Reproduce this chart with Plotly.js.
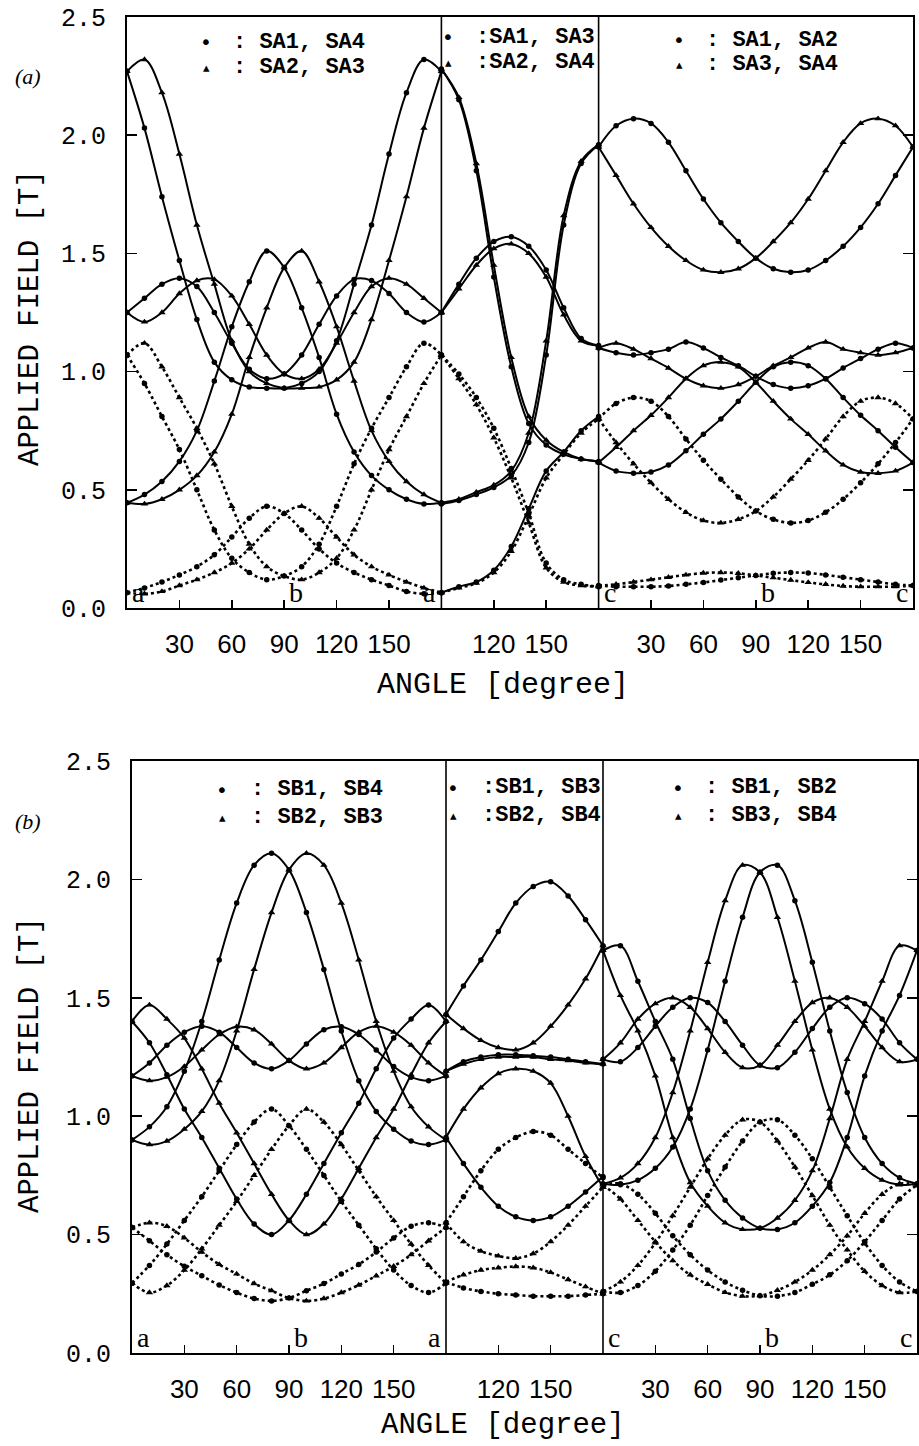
<!DOCTYPE html>
<html><head><meta charset="utf-8">
<script src="https://cdn.plot.ly/plotly-3.0.1.min.js"></script>
<style>html,body{margin:0;padding:0;background:#fff}#chart{width:919px;height:1446px}</style>
</head><body><div id="chart"></div>
<script>
// ---------- angles (degrees) ----------
const ANG = [0,10,20,30,40,50,60,70,80,90,100,110,120,130,140,150,160,170,180];
const ANG_AC = [90,100,110,120,130,140,150,160,170,180];
const SEG_OFFSET = [0, 90, 270];            // where each angular segment starts on the shared axis
const TICK_ANGLES = [[30,60,90,120,150],[120,150],[30,60,90,120,150]];
const YTICKS = [0,0.5,1.0,1.5,2.0,2.5];

// ---------- panel (a) : a-b-a plane (dots: SA1,SA4 ; triangles: SA2,SA3) ----------
const pa_s1_C_H    = [2.27,2.03,1.74,1.47,1.22,1.04,0.965,0.935,0.93,0.93,0.95,1.00,1.13,1.37,1.62,1.92,2.18,2.32,2.27];
const pa_s1_T_H    = [2.27,2.32,2.18,1.92,1.62,1.37,1.13,1.00,0.95,0.93,0.93,0.935,0.965,1.04,1.22,1.47,1.74,2.03,2.27];
const pa_s1_C_hump = [1.25,1.31,1.37,1.395,1.36,1.25,1.12,1.01,0.97,0.99,1.07,1.20,1.32,1.39,1.385,1.33,1.25,1.21,1.25];
const pa_s1_T_hump = [1.25,1.21,1.25,1.33,1.385,1.39,1.32,1.20,1.07,0.99,0.97,1.01,1.12,1.25,1.36,1.395,1.37,1.31,1.25];
const pa_s1_C_P    = [0.445,0.48,0.535,0.62,0.75,0.96,1.19,1.38,1.51,1.44,1.27,1.06,0.82,0.66,0.56,0.50,0.46,0.44,0.445];
const pa_s1_T_P    = [0.445,0.44,0.46,0.50,0.56,0.66,0.82,1.06,1.27,1.44,1.51,1.38,1.19,0.96,0.75,0.62,0.535,0.48,0.445];
const pa_s1_C_Du   = [1.07,0.95,0.81,0.67,0.50,0.33,0.21,0.15,0.12,0.135,0.175,0.27,0.43,0.61,0.76,0.89,1.02,1.12,1.07];
const pa_s1_T_Du   = [1.07,1.12,1.02,0.89,0.76,0.61,0.43,0.27,0.175,0.135,0.12,0.15,0.21,0.33,0.50,0.67,0.81,0.95,1.07];
const pa_s1_C_Dl   = [0.065,0.085,0.11,0.14,0.175,0.225,0.30,0.38,0.43,0.40,0.33,0.25,0.19,0.15,0.12,0.095,0.07,0.06,0.065];
const pa_s1_T_Dl   = [0.065,0.06,0.07,0.095,0.12,0.15,0.19,0.25,0.33,0.40,0.43,0.38,0.30,0.225,0.175,0.14,0.11,0.085,0.065];

// a-c plane (dots: SA1,SA3 ; triangles: SA2,SA4)
const pa_s2_C_H    = [2.28,2.15,1.85,1.40,1.02,0.78,0.69,0.65,0.63,0.62];
const pa_s2_T_H    = [2.28,2.16,1.88,1.45,1.06,0.81,0.71,0.66,0.63,0.62];
const pa_s2_C_hump = [1.25,1.37,1.48,1.55,1.57,1.53,1.43,1.27,1.14,1.11];
const pa_s2_T_hump = [1.25,1.35,1.45,1.52,1.54,1.50,1.40,1.24,1.13,1.11];
const pa_s2_C_P    = [0.44,0.455,0.48,0.51,0.56,0.70,1.07,1.62,1.88,1.96];
const pa_s2_T_P    = [0.445,0.46,0.49,0.52,0.58,0.74,1.13,1.66,1.89,1.96];
const pa_s2_C_Du   = [1.07,0.99,0.89,0.76,0.59,0.40,0.19,0.12,0.10,0.09];
const pa_s2_T_Du   = [1.07,0.97,0.86,0.72,0.55,0.36,0.17,0.11,0.095,0.09];
const pa_s2_C_Dl   = [0.065,0.09,0.11,0.16,0.26,0.42,0.58,0.66,0.75,0.81];
const pa_s2_T_Dl   = [0.065,0.085,0.105,0.15,0.24,0.39,0.55,0.65,0.74,0.80];

// c-b-c plane (dots: SA1,SA2 ; triangles: SA3,SA4)
const pa_s3_C_A = [1.95,2.04,2.07,2.05,1.97,1.85,1.73,1.63,1.55,1.48,1.435,1.42,1.43,1.47,1.53,1.61,1.71,1.83,1.95];
const pa_s3_T_A = [1.95,1.83,1.71,1.61,1.53,1.47,1.43,1.42,1.435,1.48,1.55,1.63,1.73,1.85,1.97,2.05,2.07,2.04,1.95];
const pa_s3_C_Q = [1.10,1.08,1.07,1.08,1.095,1.125,1.10,1.06,1.025,0.98,0.945,0.93,0.94,0.97,1.015,1.055,1.095,1.12,1.10];
const pa_s3_T_Q = [1.10,1.12,1.095,1.055,1.015,0.97,0.94,0.93,0.945,0.98,1.025,1.06,1.10,1.125,1.095,1.08,1.07,1.08,1.10];
const pa_s3_C_U = [0.615,0.58,0.57,0.575,0.605,0.665,0.735,0.80,0.875,0.955,1.02,1.04,1.025,0.97,0.89,0.815,0.75,0.68,0.615];
const pa_s3_T_U = [0.615,0.68,0.75,0.815,0.89,0.97,1.025,1.04,1.02,0.955,0.875,0.80,0.735,0.665,0.605,0.575,0.57,0.58,0.615];
const pa_s3_C_L = [0.80,0.865,0.89,0.875,0.81,0.715,0.625,0.545,0.47,0.41,0.375,0.36,0.37,0.405,0.46,0.53,0.61,0.70,0.80];
const pa_s3_T_L = [0.80,0.70,0.61,0.53,0.46,0.405,0.37,0.36,0.375,0.41,0.47,0.545,0.625,0.715,0.81,0.875,0.89,0.865,0.80];
const pa_s3_C_D = [0.095,0.09,0.09,0.09,0.093,0.10,0.108,0.118,0.128,0.138,0.147,0.15,0.148,0.14,0.13,0.12,0.11,0.10,0.095];
const pa_s3_T_D = [0.095,0.10,0.11,0.12,0.13,0.14,0.148,0.15,0.147,0.138,0.128,0.118,0.108,0.10,0.093,0.09,0.09,0.09,0.095];

// ---------- panel (b) ----------
const pb_s1_C_H  = [0.90,0.955,1.04,1.19,1.40,1.66,1.90,2.06,2.11,2.04,1.86,1.62,1.36,1.15,1.02,0.945,0.895,0.88,0.90];
const pb_s1_T_H  = [0.90,0.88,0.895,0.945,1.02,1.15,1.36,1.62,1.86,2.04,2.11,2.06,1.90,1.66,1.40,1.19,1.04,0.955,0.90];
const pb_s1_C_W  = [1.17,1.225,1.30,1.355,1.38,1.355,1.29,1.225,1.20,1.235,1.305,1.365,1.378,1.345,1.28,1.21,1.165,1.15,1.17];
const pb_s1_T_W  = [1.17,1.15,1.165,1.21,1.28,1.345,1.378,1.365,1.305,1.235,1.20,1.225,1.29,1.355,1.38,1.355,1.30,1.225,1.17];
const pb_s1_C_Dp = [0.295,0.37,0.46,0.56,0.66,0.77,0.88,0.975,1.03,0.96,0.86,0.75,0.64,0.54,0.44,0.35,0.285,0.255,0.295];
const pb_s1_T_Dp = [0.295,0.255,0.285,0.35,0.44,0.54,0.64,0.75,0.86,0.96,1.03,0.975,0.88,0.77,0.66,0.56,0.46,0.37,0.295];
const pb_s1_C_U  = [1.40,1.31,1.175,1.03,0.91,0.78,0.65,0.545,0.50,0.56,0.67,0.80,0.93,1.055,1.20,1.33,1.41,1.47,1.40];
const pb_s1_T_U  = [1.40,1.47,1.41,1.33,1.20,1.055,0.93,0.80,0.67,0.56,0.50,0.545,0.65,0.78,0.91,1.03,1.175,1.31,1.40];
const pb_s1_C_B  = [0.53,0.474,0.415,0.366,0.326,0.287,0.255,0.23,0.22,0.232,0.263,0.293,0.334,0.374,0.426,0.486,0.535,0.55,0.53];
const pb_s1_T_B  = [0.53,0.55,0.535,0.486,0.426,0.374,0.334,0.293,0.263,0.232,0.22,0.23,0.255,0.287,0.326,0.366,0.415,0.474,0.53];

const pb_s2_C_hump = [1.43,1.55,1.66,1.78,1.90,1.97,1.99,1.93,1.83,1.72];
const pb_s2_T_U    = [1.43,1.37,1.32,1.29,1.28,1.31,1.38,1.47,1.58,1.72];
const pb_s2_C_flat = [1.19,1.23,1.25,1.26,1.26,1.255,1.25,1.24,1.23,1.22];
const pb_s2_T_flat = [1.19,1.22,1.24,1.25,1.25,1.25,1.24,1.235,1.225,1.22];
const pb_s2_C_low  = [0.91,0.80,0.70,0.62,0.575,0.56,0.575,0.62,0.68,0.745];
const pb_s2_T_mid  = [0.91,1.03,1.12,1.18,1.20,1.19,1.14,1.00,0.83,0.70];
const pb_s2_C_dot  = [0.55,0.66,0.77,0.86,0.91,0.935,0.92,0.86,0.80,0.74];
const pb_s2_T_dl   = [0.55,0.47,0.43,0.41,0.40,0.42,0.47,0.54,0.62,0.70];
const pb_s2_C_bot  = [0.30,0.275,0.26,0.25,0.245,0.24,0.24,0.24,0.245,0.25];
const pb_s2_T_bot  = [0.30,0.33,0.35,0.36,0.365,0.36,0.34,0.31,0.28,0.25];

const pb_s3_C_H  = [0.715,0.71,0.73,0.78,0.87,1.03,1.28,1.57,1.84,2.03,2.06,1.91,1.65,1.36,1.10,0.91,0.80,0.74,0.715];
const pb_s3_T_H  = [0.715,0.74,0.80,0.91,1.10,1.36,1.65,1.91,2.06,2.03,1.84,1.57,1.28,1.03,0.87,0.78,0.73,0.71,0.715];
const pb_s3_C_W  = [1.24,1.23,1.29,1.38,1.46,1.50,1.48,1.40,1.30,1.215,1.205,1.27,1.37,1.46,1.50,1.475,1.41,1.31,1.24];
const pb_s3_T_W  = [1.24,1.31,1.41,1.475,1.50,1.46,1.37,1.27,1.205,1.215,1.30,1.40,1.48,1.50,1.46,1.38,1.29,1.23,1.24];
const pb_s3_C_U  = [1.70,1.72,1.57,1.40,1.24,0.99,0.77,0.645,0.57,0.527,0.522,0.55,0.62,0.72,0.91,1.17,1.36,1.51,1.70];
const pb_s3_T_U  = [1.70,1.51,1.36,1.17,0.91,0.72,0.62,0.55,0.522,0.527,0.57,0.645,0.77,0.99,1.24,1.40,1.57,1.72,1.70];
const pb_s3_C_Dp = [0.26,0.255,0.285,0.345,0.435,0.54,0.665,0.785,0.895,0.975,0.985,0.92,0.82,0.70,0.58,0.465,0.37,0.30,0.26];
const pb_s3_T_Dp = [0.26,0.30,0.37,0.465,0.58,0.70,0.82,0.92,0.985,0.975,0.895,0.785,0.665,0.54,0.435,0.345,0.285,0.255,0.26];
const pb_s3_C_B  = [0.71,0.715,0.67,0.59,0.495,0.415,0.35,0.30,0.265,0.242,0.24,0.256,0.29,0.33,0.39,0.47,0.56,0.65,0.71];
const pb_s3_T_B  = [0.71,0.65,0.56,0.47,0.39,0.33,0.29,0.256,0.24,0.242,0.265,0.30,0.35,0.415,0.495,0.59,0.67,0.715,0.71];

// ---------- legend / label text ----------
const LEGEND_A = [[': SA1, SA4',': SA2, SA3'],[':SA1, SA3',':SA2, SA4'],[': SA1, SA2',': SA3, SA4']];
const LEGEND_B = [[': SB1, SB4',': SB2, SB3'],[':SB1, SB3',':SB2, SB4'],[': SB1, SB2',': SB3, SB4']];
const DIR_LABELS = [['a',0,'left'],['b',90,'left'],['a',180,'right'],['c',270,'left'],['b',360,'left'],['c',450,'right']];

// ---------- series table: [panel, segment, values, marker, dotted] ----------
const SERIES = [
 ['a',0,pa_s1_C_H,'circle',0],['a',0,pa_s1_T_H,'triangle-up',0],
 ['a',0,pa_s1_C_hump,'circle',0],['a',0,pa_s1_T_hump,'triangle-up',0],
 ['a',0,pa_s1_C_P,'circle',0],['a',0,pa_s1_T_P,'triangle-up',0],
 ['a',0,pa_s1_C_Du,'circle',1],['a',0,pa_s1_T_Du,'triangle-up',1],
 ['a',0,pa_s1_C_Dl,'circle',1],['a',0,pa_s1_T_Dl,'triangle-up',1],
 ['a',1,pa_s2_C_H,'circle',0],['a',1,pa_s2_T_H,'triangle-up',0],
 ['a',1,pa_s2_C_hump,'circle',0],['a',1,pa_s2_T_hump,'triangle-up',0],
 ['a',1,pa_s2_C_P,'circle',0],['a',1,pa_s2_T_P,'triangle-up',0],
 ['a',1,pa_s2_C_Du,'circle',1],['a',1,pa_s2_T_Du,'triangle-up',1],
 ['a',1,pa_s2_C_Dl,'circle',0],['a',1,pa_s2_T_Dl,'triangle-up',1],
 ['a',2,pa_s3_C_A,'circle',0],['a',2,pa_s3_T_A,'triangle-up',0],
 ['a',2,pa_s3_C_Q,'circle',0],['a',2,pa_s3_T_Q,'triangle-up',0],
 ['a',2,pa_s3_C_U,'circle',0],['a',2,pa_s3_T_U,'triangle-up',0],
 ['a',2,pa_s3_C_L,'circle',1],['a',2,pa_s3_T_L,'triangle-up',1],
 ['a',2,pa_s3_C_D,'circle',1],['a',2,pa_s3_T_D,'triangle-up',1],
 ['b',0,pb_s1_C_H,'circle',0],['b',0,pb_s1_T_H,'triangle-up',0],
 ['b',0,pb_s1_C_W,'circle',0],['b',0,pb_s1_T_W,'triangle-up',0],
 ['b',0,pb_s1_C_Dp,'circle',1],['b',0,pb_s1_T_Dp,'triangle-up',1],
 ['b',0,pb_s1_C_U,'circle',0],['b',0,pb_s1_T_U,'triangle-up',0],
 ['b',0,pb_s1_C_B,'circle',1],['b',0,pb_s1_T_B,'triangle-up',1],
 ['b',1,pb_s2_C_hump,'circle',0],['b',1,pb_s2_T_U,'triangle-up',0],
 ['b',1,pb_s2_C_flat,'circle',0],['b',1,pb_s2_T_flat,'triangle-up',0],
 ['b',1,pb_s2_C_low,'circle',0],['b',1,pb_s2_T_mid,'triangle-up',0],
 ['b',1,pb_s2_C_dot,'circle',1],['b',1,pb_s2_T_dl,'triangle-up',1],
 ['b',1,pb_s2_C_bot,'circle',1],['b',1,pb_s2_T_bot,'triangle-up',1],
 ['b',2,pb_s3_C_H,'circle',0],['b',2,pb_s3_T_H,'triangle-up',0],
 ['b',2,pb_s3_C_W,'circle',0],['b',2,pb_s3_T_W,'triangle-up',0],
 ['b',2,pb_s3_C_U,'circle',0],['b',2,pb_s3_T_U,'triangle-up',0],
 ['b',2,pb_s3_C_Dp,'circle',1],['b',2,pb_s3_T_Dp,'triangle-up',1],
 ['b',2,pb_s3_C_B,'circle',1],['b',2,pb_s3_T_B,'triangle-up',1]
];

// ---------- build ----------
const W = 919, H = 1446;
const px = v => v / W, py = v => 1 - v / H;

const traces = SERIES.map(([panel, seg, vals, sym, dotted]) => {
  const angs = seg === 1 ? ANG_AC : ANG;
  return {
    type: 'scatter', mode: 'lines+markers',
    x: angs.map(a => a + SEG_OFFSET[seg]), y: vals,
    xaxis: panel === 'a' ? 'x' : 'x2', yaxis: panel === 'a' ? 'y' : 'y2',
    line: {color: '#000', width: dotted ? 2.6 : 2.0, shape: 'spline', smoothing: 1, dash: dotted ? 'dot' : 'solid'},
    marker: {symbol: sym, size: sym === 'circle' ? 5.5 : 6.5, color: '#000'},
    hoverinfo: 'skip', showlegend: false
  };
});

const tickvals = [], ticktext = [];
TICK_ANGLES.forEach((arr, s) => arr.forEach(a => { tickvals.push(a + SEG_OFFSET[s]); ticktext.push(String(a)); }));

function xAxis(domain, anchor) {
  return {domain, anchor, range: [0, 450], showgrid: false, zeroline: false,
    showline: true, linecolor: '#000', linewidth: 2, mirror: true,
    ticks: 'inside', ticklen: 8, tickwidth: 1.5, tickcolor: '#000',
    tickvals, ticktext, ticklabelstandoff: 12,
    tickfont: {family: 'Liberation Sans, Arial, sans-serif', size: 26, color: '#000'}, fixedrange: true};
}
function yAxis(domain, anchor) {
  return {domain, anchor, range: [0, 2.5], showgrid: false, zeroline: false,
    showline: true, linecolor: '#000', linewidth: 2, mirror: 'ticks',
    ticks: 'inside', ticklen: 10, tickwidth: 1.5, tickcolor: '#000',
    tickvals: YTICKS, ticktext: YTICKS.map(v => v.toFixed(1)), ticklabelstandoff: 14,
    tickfont: {family: 'Liberation Mono, Courier New, monospace', size: 25, color: '#000'}, fixedrange: true};
}

const PANELS = {
  a: {x: [127, 913], y: [17, 608], xref: 'x', yref: 'y', legend: LEGEND_A, legY: [[42,67],[37,63],[40,65]],
      legX: [[206,231],[448,474],[679,704]], tag: '(a)', tagY: 76, ytitleY: 318, xtitleY: 685, xtitleSize: 30},
  b: {x: [132, 917], y: [761, 1353], xref: 'x2', yref: 'y2', legend: LEGEND_B, legY: [[790,817],[788,815],[788,815]],
      legX: [[222,249],[453,480],[678,703]], tag: '(b)', tagY: 821, ytitleY: 1065, xtitleY: 1425, xtitleSize: 29}
};

const layout = {
  width: W, height: H, margin: {l: 0, r: 0, t: 0, b: 0},
  paper_bgcolor: '#fff', plot_bgcolor: '#fff', showlegend: false,
  font: {family: 'Liberation Mono, Courier New, monospace', color: '#000'},
  xaxis: xAxis([px(PANELS.a.x[0]), px(PANELS.a.x[1])], 'y'),
  yaxis: yAxis([py(PANELS.a.y[1]), py(PANELS.a.y[0])], 'x'),
  xaxis2: xAxis([px(PANELS.b.x[0]), px(PANELS.b.x[1])], 'y2'),
  yaxis2: yAxis([py(PANELS.b.y[1]), py(PANELS.b.y[0])], 'x2'),
  shapes: [], annotations: []
};

Object.values(PANELS).forEach(p => {
  // segment dividers
  [180, 270].forEach(xv => layout.shapes.push({type: 'line', xref: p.xref, yref: p.yref, x0: xv, x1: xv, y0: 0, y1: 2.5,
    line: {color: '#000', width: 1.6}}));
  // legends
  p.legend.forEach((pair, s) => {
    pair.forEach((txt, k) => {
      const yy = p.legY[s][k];
      layout.annotations.push({xref: 'paper', yref: 'paper', x: px(p.legX[s][0]), y: py(yy), xanchor: 'center', yanchor: 'middle',
        text: k === 0 ? '\u2022' : '\u25B4', showarrow: false, font: {family: 'DejaVu Sans', size: k === 0 ? 20 : 13, color: '#000'}});
      layout.annotations.push({xref: 'paper', yref: 'paper', x: px(p.legX[s][1]), y: py(yy), xanchor: 'left', yanchor: 'middle',
        text: '<b>' + txt + '</b>', showarrow: false, font: {family: 'Liberation Mono, Courier New, monospace', size: 22, color: '#000'}});
    });
  });
  // direction letters
  DIR_LABELS.forEach(([t, xv, anc]) => layout.annotations.push({xref: p.xref, yref: p.yref, x: xv, y: 0,
    xanchor: anc, yanchor: 'bottom', xshift: anc === 'left' ? 3 : -3, yshift: -2, text: t, showarrow: false,
    font: {family: 'Liberation Serif, Times New Roman, serif', size: 28, color: '#000'}}));
  // panel tag
  layout.annotations.push({xref: 'paper', yref: 'paper', x: px(28), y: py(p.tagY), xanchor: 'center', yanchor: 'middle',
    text: '<i>' + p.tag + '</i>', showarrow: false, font: {family: 'Liberation Serif, Times New Roman, serif', size: 22, color: '#000'}});
  // axis titles
  layout.annotations.push({xref: 'paper', yref: 'paper', x: px(30), y: py(p.ytitleY), xanchor: 'center', yanchor: 'middle',
    text: 'APPLIED FIELD [T]', textangle: -90, showarrow: false, font: {family: 'Liberation Mono, Courier New, monospace', size: 29, color: '#000'}});
  layout.annotations.push({xref: 'paper', yref: 'paper', x: px(503), y: py(p.xtitleY), xanchor: 'center', yanchor: 'middle',
    text: 'ANGLE [degree]', showarrow: false, font: {family: 'Liberation Mono, Courier New, monospace', size: p.xtitleSize, color: '#000'}});
});

Plotly.newPlot('chart', traces, layout, {staticPlot: true, displayModeBar: false});
</script>
</body></html>
